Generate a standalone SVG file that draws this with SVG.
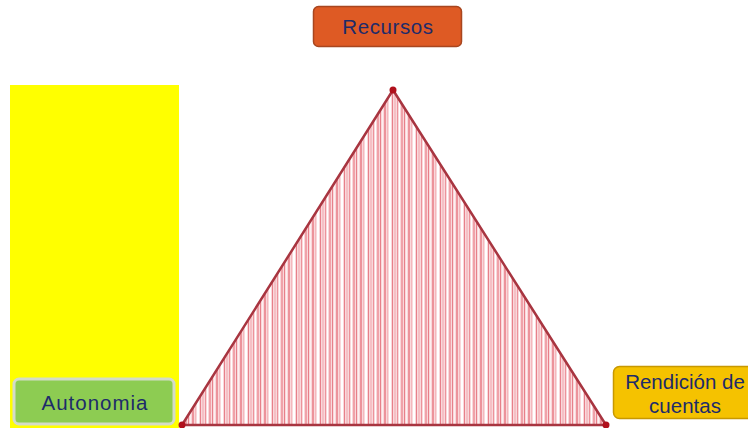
<svg xmlns="http://www.w3.org/2000/svg" width="748" height="428" viewBox="0 0 748 428">
<defs>
<pattern id="stripes" patternUnits="userSpaceOnUse" x="0" y="0" width="24" height="10">
<rect width="24" height="10" fill="#f9d8db"/>
<rect x="0" width="2" height="10" fill="#ec939b"/>
<rect x="3" width="1" height="10" fill="#f4b8bd"/>
<rect x="5" width="2" height="10" fill="#fff"/>
<rect x="8" width="1" height="10" fill="#e7808a"/>
<rect x="10" width="2" height="10" fill="#f5c0c5"/>
<rect x="13" width="1" height="10" fill="#ec939b"/>
<rect x="15" width="1" height="10" fill="#fff"/>
<rect x="17" width="2" height="10" fill="#f0a2a9"/>
<rect x="20" width="1" height="10" fill="#e7808a"/>
<rect x="22" width="1" height="10" fill="#fdf0f1"/>
</pattern>
</defs>
<style>
.lbl{font-family:"Liberation Sans",Arial,sans-serif;font-size:20.5px;fill:#1d2b6a;text-anchor:middle}
.vtx{fill:#b0101c}
</style>
<rect width="748" height="428" fill="#fff"/>
<rect x="10" y="85" width="169" height="343" fill="#ffff00"/>
<g id="triangle">
<polygon points="393,90 182,425 606,425" fill="url(#stripes)" stroke="#a83540" stroke-width="2.5" stroke-linejoin="round"/>
<circle class="vtx" cx="393" cy="90" r="3.5"/>
<circle class="vtx" cx="182" cy="425" r="3.5"/>
<circle class="vtx" cx="606" cy="425" r="3.5"/>
</g>
<g id="recursos">
<rect x="313.5" y="6.5" width="148" height="40" rx="5" fill="#de5a24" stroke="#a8461f" stroke-width="1.5"/>
<text class="lbl" x="388" y="34" letter-spacing="0.6">Recursos</text>
</g>
<g id="autonomia">
<rect x="14" y="379" width="160" height="45" rx="5" fill="#8dcc52" stroke="#d4dcc8" stroke-width="3"/>
<text class="lbl" x="95" y="410" font-size="22" letter-spacing="1">Autonomia</text>
</g>
<g id="rendicion">
<rect x="613.5" y="366.5" width="140" height="52" rx="6" fill="#f5c200" stroke="#c89800" stroke-width="1.5"/>
<text class="lbl" x="685" y="389">Rendición de</text>
<text class="lbl" x="685" y="413">cuentas</text>
</g>
</svg>
